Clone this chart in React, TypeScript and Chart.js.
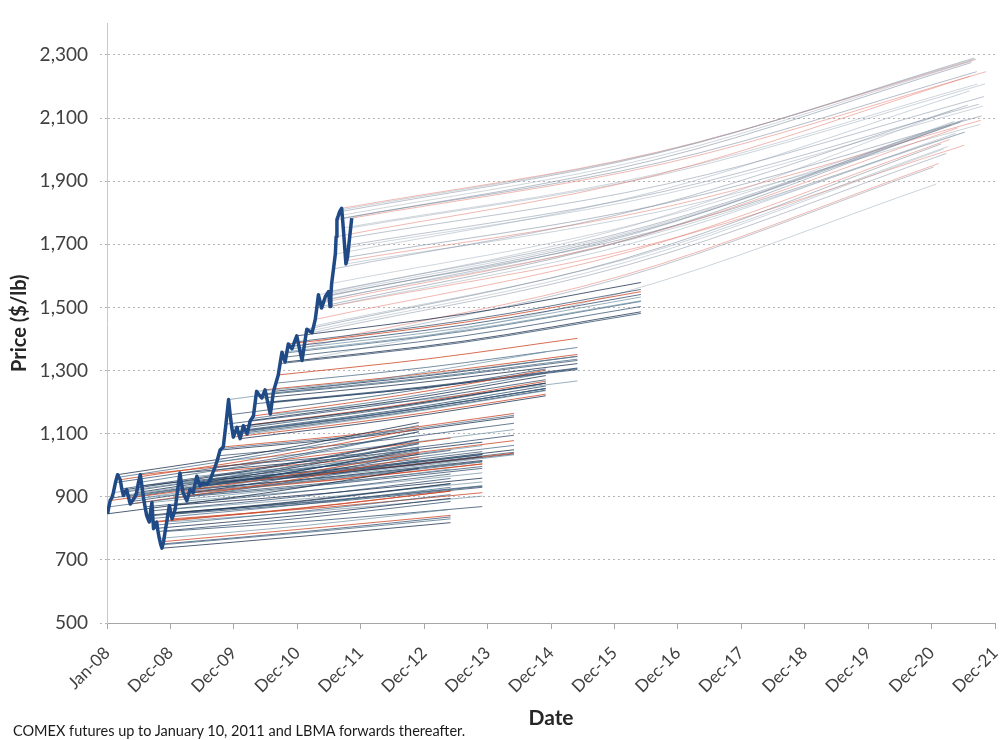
import React, { useEffect, useRef } from "react";
import { Chart, registerables } from "chart.js";

Chart.register(...registerables);

// Axis ticks: months counted from the start of January 2008.
const xTickMonths = [0, 12, 24, 36, 48, 60, 72, 84, 96, 108, 120, 132, 144, 156, 168];
const xTickLabels = [
  "Jan-08", "Dec-08", "Dec-09", "Dec-10", "Dec-11", "Dec-12", "Dec-13", "Dec-14",
  "Dec-15", "Dec-16", "Dec-17", "Dec-18", "Dec-19", "Dec-20", "Dec-21",
];
const yTicks = [500, 700, 900, 1100, 1300, 1500, 1700, 1900, 2100, 2300];

// Spot price observations: month and price ($/lb).
const spotMonths = [
  0.1, 0.35, 0.6, 0.9, 1.2, 1.6, 2.0, 2.25, 2.5, 2.8, 3.1, 3.4, 3.7, 4.05, 4.4, 4.7, 5.0, 5.3, 5.6, 5.95,
  6.3, 6.6, 6.9, 7.2, 7.5, 7.75, 8.0, 8.25, 8.5, 8.65, 8.8, 9.1, 9.4, 9.65, 9.9, 10.15, 10.4, 10.55, 10.7,
  11.0, 11.3, 11.55, 11.8, 12.05, 12.3, 12.6, 12.9, 13.35, 13.8, 14.1, 14.4, 14.75, 15.1, 15.4, 15.7,
  16.0, 16.3, 16.65, 17.0, 17.3, 17.6, 17.9,
  18.2, 18.55, 18.9, 19.2, 19.5, 19.8, 20.1, 20.45, 20.8, 21.1, 21.4, 21.7, 22.0,
  22.5, 23.0, 23.3, 23.6, 23.75, 23.9, 24.25, 24.6, 24.9, 25.2, 25.5, 25.8, 26.15, 26.5, 26.8, 27.1,
  27.4, 27.7,
  28.0, 28.3, 28.8, 29.3, 29.6, 29.9, 30.4, 30.9, 31.2, 31.5, 31.95, 32.4,
  32.75, 33.1, 33.4, 33.7, 34.0, 34.3, 34.65, 35.0, 35.45, 35.9,
  36.4, 36.9, 37.35, 37.8, 38.3, 38.8, 39.1, 39.4, 39.7, 40.0, 40.3, 40.6, 40.95, 41.3, 41.6, 41.9,
  42.05, 42.2, 42.35, 42.5, 42.85, 43.2, 43.35, 43.5, 43.75, 44.0, 44.2, 44.4, 44.55, 44.7, 44.95,
  45.2, 45.35, 45.5, 45.7, 45.9, 46.1, 46.3,
];
const spotPrices = [
  846, 868, 888, 896, 913, 945, 970, 962, 954, 925, 904, 915, 923, 900, 877, 885, 892, 900, 913, 945,
  970, 935, 897, 868, 841, 830, 820, 855, 882, 840, 799, 810, 820, 790, 768, 750, 737, 748, 758,
  790, 820, 848, 872, 850, 830, 845, 861, 920, 975, 940, 913, 900, 887, 905, 923,
  918, 913, 940, 965, 948, 934, 940,
  944, 942, 939, 946, 954, 966, 980, 995, 1012, 1030, 1048, 1053, 1058,
  1130, 1208, 1160, 1120, 1105, 1089, 1105, 1120, 1100, 1084, 1105, 1125, 1112, 1099, 1120, 1141,
  1148, 1156,
  1195, 1234, 1222, 1213, 1226, 1239, 1200, 1162, 1198, 1234, 1260, 1286,
  1322, 1358, 1342, 1327, 1356, 1384, 1376, 1369, 1390, 1410,
  1370, 1332, 1382, 1431, 1425, 1420, 1441, 1462, 1500, 1540, 1519, 1498, 1516, 1534, 1542, 1550,
  1527, 1503, 1540, 1576, 1622, 1669, 1724, 1778, 1790, 1803, 1809, 1814, 1783, 1752, 1695,
  1638, 1648, 1659, 1690, 1721, 1752, 1783,
];

// Forward curve quoted on each spot date: last delivery month, price halfway out, last price.
const fwdEndMonths = [
  59, 59, 59, 59, 59, 59, 59, 59, 59, 59, 59, 59, 59, 59, 59, 59, 59, 59, 59, 59,
  65, 65, 65, 65, 65, 65, 65, 65, 65, 65, 65, 65, 65, 65, 65, 65, 65, 65, 65,
  71, 71, 71, 71, 71, 71, 71, 71, 71, 71, 71, 71, 71, 71, 71, 71,
  71, 71, 71, 71, 71, 71, 71,
  77, 77, 77, 77, 77, 77, 77, 77, 77, 77, 77, 77, 77,
  83, 83, 83, 83, 83, 83, 83, 83, 83, 83, 83, 83, 83, 83, 83, 83,
  83, 83,
  89, 89, 89, 89, 89, 89, 89, 89, 89, 89, 89, 89,
  101, 101, 101, 101, 101, 101, 101, 101, 101, 101,
  156.4, 156.9, 157.35, 157.8, 158.3, 158.8, 159.1, 159.4, 159.7, 160.0, 160.3, 160.6, 160.95,
  161.3, 161.6, 161.9, 162.05, 162.2, 162.35, 162.5, 162.85, 163.2, 163.35, 163.5, 163.75, 164.0,
  164.2, 164.4, 164.55, 164.7, 164.95, 165.2, 165.35, 165.5, 165.7, 165.9, 166.1, 166.3,
];
const fwdMidPrices = [
  911, 934, 956, 965, 983, 1017, 1044, 1036, 1027, 996, 973, 985, 994, 969, 944, 953, 960, 969, 983, 1017,
  1022, 985, 945, 915, 886, 875, 864, 901, 930, 885, 842, 854, 864, 833, 809, 790, 776, 787, 799,
  826, 857, 886, 911, 888, 867, 883, 900, 961, 1019, 982, 954, 941, 927, 946, 965,
  959, 954, 982, 1008, 991, 976, 982,
  984, 982, 978, 986, 994, 1007, 1021, 1037, 1055, 1073, 1092, 1097, 1102,
  1193, 1276, 1225, 1183, 1167, 1150, 1167, 1183, 1162, 1145, 1167, 1188, 1174, 1161, 1183, 1205,
  1212, 1221,
  1243, 1283, 1271, 1262, 1275, 1289, 1248, 1208, 1246, 1283, 1310, 1337,
  1388, 1426, 1409, 1393, 1424, 1453, 1445, 1437, 1460, 1481,
  1589, 1544, 1600, 1654, 1644, 1636, 1657, 1679, 1720, 1762, 1736, 1709, 1726, 1744, 1750, 1756,
  1727, 1697, 1736, 1774, 1819, 1865, 1917, 1967, 1977, 1988, 1991, 1993, 1959, 1925, 1866,
  1806, 1817, 1829, 1860, 1891, 1925, 1959,
];
const fwdEndPrices = [
  990, 1016, 1039, 1048, 1068, 1106, 1135, 1126, 1116, 1082, 1058, 1071, 1080, 1053, 1026, 1035, 1044, 1053, 1068, 1106,
  1086, 1047, 1005, 972, 942, 930, 918, 958, 988, 941, 895, 907, 918, 885, 860, 836, 818, 830, 841,
  869, 902, 933, 959, 935, 913, 930, 947, 1012, 1073, 1034, 1004, 990, 976, 996, 1015,
  1010, 1004, 1034, 1062, 1043, 1027, 1034,
  1038, 1036, 1033, 1041, 1049, 1063, 1078, 1095, 1113, 1133, 1153, 1158, 1164,
  1271, 1359, 1305, 1260, 1243, 1225, 1243, 1260, 1238, 1220, 1243, 1266, 1251, 1236, 1260, 1284,
  1292, 1301,
  1303, 1345, 1332, 1322, 1336, 1351, 1308, 1267, 1306, 1345, 1373, 1402,
  1481, 1521, 1503, 1486, 1519, 1550, 1541, 1533, 1557, 1579,
  1945, 1891, 1956, 2018, 2002, 1988, 2010, 2032, 2078, 2125, 2089, 2052, 2069, 2086, 2089, 2093,
  2054, 2014, 2056, 2096, 2141, 2186, 2233, 2276, 2282, 2290, 2288, 2286, 2247, 2208, 2144,
  2080, 2093, 2107, 2138, 2168, 2208, 2247,
];

// COMEX futures until January 10, 2011; LBMA forwards afterwards.
const lbmaFromMonth = 36.3;

const FONT = "Lato, 'Open Sans', Arial, sans-serif";
const comexInk = [
  "rgba(22,42,72,0.75)",
  "rgba(60,95,125,0.7)",
  "rgba(205,72,40,0.8)",
  "rgba(30,60,95,0.7)",
  "rgba(100,135,155,0.65)",
  "rgba(40,70,100,0.7)",
];
const lbmaInk = [
  "rgba(125,140,160,0.5)",
  "rgba(140,160,175,0.45)",
  "rgba(230,125,115,0.55)",
  "rgba(110,125,145,0.5)",
  "rgba(150,165,180,0.45)",
];

export default function App() {
  const canvasRef = useRef<HTMLCanvasElement>(null);

  useEffect(() => {
    const canvas = canvasRef.current;
    if (!canvas) return;

    const datasets: any[] = [
      {
        label: "Spot",
        data: spotMonths.map((m, i) => ({ x: m, y: spotPrices[i] })),
        borderColor: "#1f4a86",
        borderWidth: 3.5,
        pointRadius: 0,
        tension: 0,
        borderJoinStyle: "round",
      },
    ];

    spotMonths.forEach((m, i) => {
      const end = fwdEndMonths[i];
      const lbma = m >= lbmaFromMonth;
      datasets.push({
        label: lbma ? "LBMA forward" : "COMEX futures",
        data: [
          { x: m, y: spotPrices[i] },
          { x: (m + end) / 2, y: fwdMidPrices[i] },
          { x: end, y: fwdEndPrices[i] },
        ],
        borderColor: lbma ? lbmaInk[i % lbmaInk.length] : comexInk[i % comexInk.length],
        borderWidth: 1,
        pointRadius: 0,
        cubicInterpolationMode: "monotone",
      });
    });

    const chart = new Chart(canvas, {
      type: "line",
      data: { datasets },
      options: {
        animation: false,
        responsive: false,
        devicePixelRatio: 1,
        layout: { padding: { left: 0, right: 6, top: 12, bottom: 9 } },
        plugins: { legend: { display: false }, tooltip: { enabled: false } },
        scales: {
          x: {
            type: "linear",
            min: 0,
            max: 168,
            afterBuildTicks: (s: any) => {
              s.ticks = xTickMonths.map((v) => ({ value: v }));
            },
            afterFit: (s: any) => {
              s.height = 108;
              s.paddingLeft = 0;
              s.paddingRight = 0;
            },
            ticks: {
              autoSkip: false,
              minRotation: 45,
              maxRotation: 45,
              padding: 14,
              color: "#404040",
              font: { family: FONT, size: 17 },
              callback: (_v: any, i: number) => xTickLabels[i],
            },
            grid: { drawOnChartArea: false, drawTicks: true, tickLength: 6, color: "#a6a6a6" },
            border: { color: "#a6a6a6", width: 1 },
            title: {
              display: true,
              text: "Date",
              color: "#262626",
              font: { family: FONT, size: 21, weight: "bold" },
              padding: { top: 0, bottom: 0 },
            },
          },
          y: {
            type: "linear",
            min: 500,
            max: 2400,
            afterBuildTicks: (s: any) => {
              s.ticks = yTicks.map((v) => ({ value: v }));
            },
            afterFit: (s: any) => {
              s.width = 107;
            },
            ticks: {
              padding: 12,
              color: "#404040",
              font: { family: FONT, size: 19 },
              callback: (v: any) => Number(v).toLocaleString("en-US"),
            },
            grid: {
              color: "#b4b4b4",
              tickLength: 7,
              tickColor: "#b4b4b4",
              tickBorderDash: [2, 3],
            },
            border: { color: "#c8c8c8", width: 1, dash: [2, 3] },
            title: {
              display: true,
              text: "Price ($/lb)",
              color: "#262626",
              font: { family: FONT, size: 20, weight: "bold" },
              padding: { top: 8, bottom: 0 },
            },
          },
        },
      },
    });

    return () => chart.destroy();
  }, []);

  return (
    <div style={{ position: "fixed", left: 0, top: 0, width: 1001, height: 740, background: "#fff" }}>
      <canvas ref={canvasRef} width={1001} height={740} style={{ display: "block" }} />
      <div
        style={{
          position: "absolute",
          left: 13,
          top: 723,
          fontFamily: FONT,
          fontSize: 14.5,
          lineHeight: "16px",
          color: "#1a1a1a",
          whiteSpace: "nowrap",
        }}
      >
        COMEX futures up to January 10, 2011 and LBMA forwards thereafter.
      </div>
    </div>
  );
}
